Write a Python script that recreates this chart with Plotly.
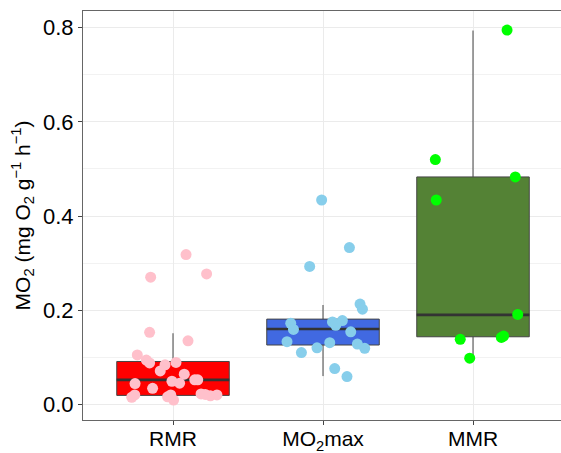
import plotly.graph_objects as go

# ---------------- data ----------------
categories = ["RMR", "MO<sub>2</sub>max", "MMR"]

# box statistics
box_q1 = [0.019, 0.126, 0.1435]
box_median = [0.052, 0.160, 0.190]
box_q3 = [0.091, 0.181, 0.483]
box_lower = [0.008, 0.060, 0.100]
box_upper = [0.151, 0.211, 0.794]

# raw observations (jittered horizontally in the original)
rmr_values = [0.318, 0.270, 0.277, 0.153, 0.135, 0.105, 0.094, 0.088, 0.084, 0.071,
              0.089, 0.064, 0.049, 0.045, 0.052, 0.052, 0.044, 0.034, 0.015, 0.020,
              0.016, 0.009, 0.020, 0.022, 0.018, 0.020, 0.021]
rmr_jitter = [0.087, -0.149, 0.224, -0.156, 0.100, -0.238, -0.178, -0.156, -0.053, -0.085,
              0.020, 0.075, -0.007, 0.044, 0.145, 0.165, -0.253, -0.136, -0.275, -0.255,
              -0.036, 0.004, -0.015, 0.187, 0.249, 0.293, 0.215]

mo2max_values = [0.434, 0.333, 0.293, 0.213, 0.202, 0.172, 0.159, 0.175, 0.168, 0.178,
                 0.154, 0.133, 0.131, 0.128, 0.119, 0.120, 0.110, 0.076, 0.059]
mo2max_jitter = [-0.009, 0.176, -0.089, 0.247, 0.263, -0.215, -0.197, 0.063, 0.085, 0.129,
                 0.185, -0.240, 0.045, 0.229, 0.278, -0.040, -0.144, 0.078, 0.160]

mmr_values = [0.795, 0.520, 0.434, 0.483, 0.191, 0.138, 0.142, 0.145, 0.098]
mmr_jitter = [0.227, -0.251, -0.245, 0.282, 0.298, -0.085, 0.189, 0.204, -0.022]

# ---------------- styles ----------------
box_fill = ["#FF0000", "#4169E1", "#548235"]
point_color = ["#FFC0CB", "#87CEEB", "#00FF00"]
BOX_WIDTH = 0.75
FONT = "Liberation Sans, Arial, sans-serif"

values = [rmr_values, mo2max_values, mmr_values]
jitters = [rmr_jitter, mo2max_jitter, mmr_jitter]
positions = list(range(1, len(categories) + 1))

fig = go.Figure()

for i, pos in enumerate(positions):
    fig.add_trace(go.Box(
        x=[pos], q1=[box_q1[i]], median=[box_median[i]], q3=[box_q3[i]],
        lowerfence=[box_lower[i]], upperfence=[box_upper[i]],
        width=BOX_WIDTH, whiskerwidth=0, boxpoints=False,
        fillcolor=box_fill[i], line=dict(color="#444444", width=1),
        showlegend=False, hoverinfo="skip",
    ))
    # thicker median line
    fig.add_trace(go.Scatter(
        x=[pos - BOX_WIDTH / 2, pos + BOX_WIDTH / 2],
        y=[box_median[i], box_median[i]],
        mode="lines", line=dict(color="#333333", width=2.6),
        showlegend=False, hoverinfo="skip",
    ))

for i, pos in enumerate(positions):
    fig.add_trace(go.Scatter(
        x=[pos + j for j in jitters[i]], y=values[i],
        mode="markers",
        marker=dict(color=point_color[i], size=11, line=dict(width=0)),
        showlegend=False,
    ))

fig.update_layout(
    width=561, height=453,
    margin=dict(l=83, r=0, t=11, b=33),
    plot_bgcolor="white", paper_bgcolor="white",
    font=dict(family=FONT, color="black", size=21),
    boxmode="overlay",
)

fig.update_xaxes(
    range=[0.4, 0.4 + 478 / 150],
    tickmode="array", tickvals=positions, ticktext=categories,
    showgrid=True, gridcolor="#EBEBEB", gridwidth=1,
    showline=True, linecolor="#666666", linewidth=1.2, mirror=True,
    ticks="outside", ticklen=4, tickcolor="#444444", tickwidth=1,
    tickfont=dict(size=21, color="black"), ticklabelstandoff=-4,
    zeroline=False, automargin=False,
)

fig.update_yaxes(
    range=[-0.0333, 0.8355],
    tickmode="array", tickvals=[0.0, 0.2, 0.4, 0.6, 0.8],
    ticktext=["0.0", "0.2", "0.4", "0.6", "0.8"],
    showgrid=True, gridcolor="#EBEBEB", gridwidth=1,
    minor=dict(tickvals=[0.1, 0.3, 0.5, 0.7], showgrid=True, gridcolor="#F2F2F2", gridwidth=1),
    showline=True, linecolor="#666666", linewidth=1.2, mirror=False,
    ticks="outside", ticklen=4, tickcolor="#444444", tickwidth=1,
    tickfont=dict(size=22, color="black"),
    zeroline=False, automargin=False,
    title=dict(text="MO<sub>2</sub> (mg O<sub>2</sub> g<sup>−1</sup> h<sup>−1</sup>)",
               font=dict(size=21, color="black"), standoff=6),
)

fig.write_html("out.html")
